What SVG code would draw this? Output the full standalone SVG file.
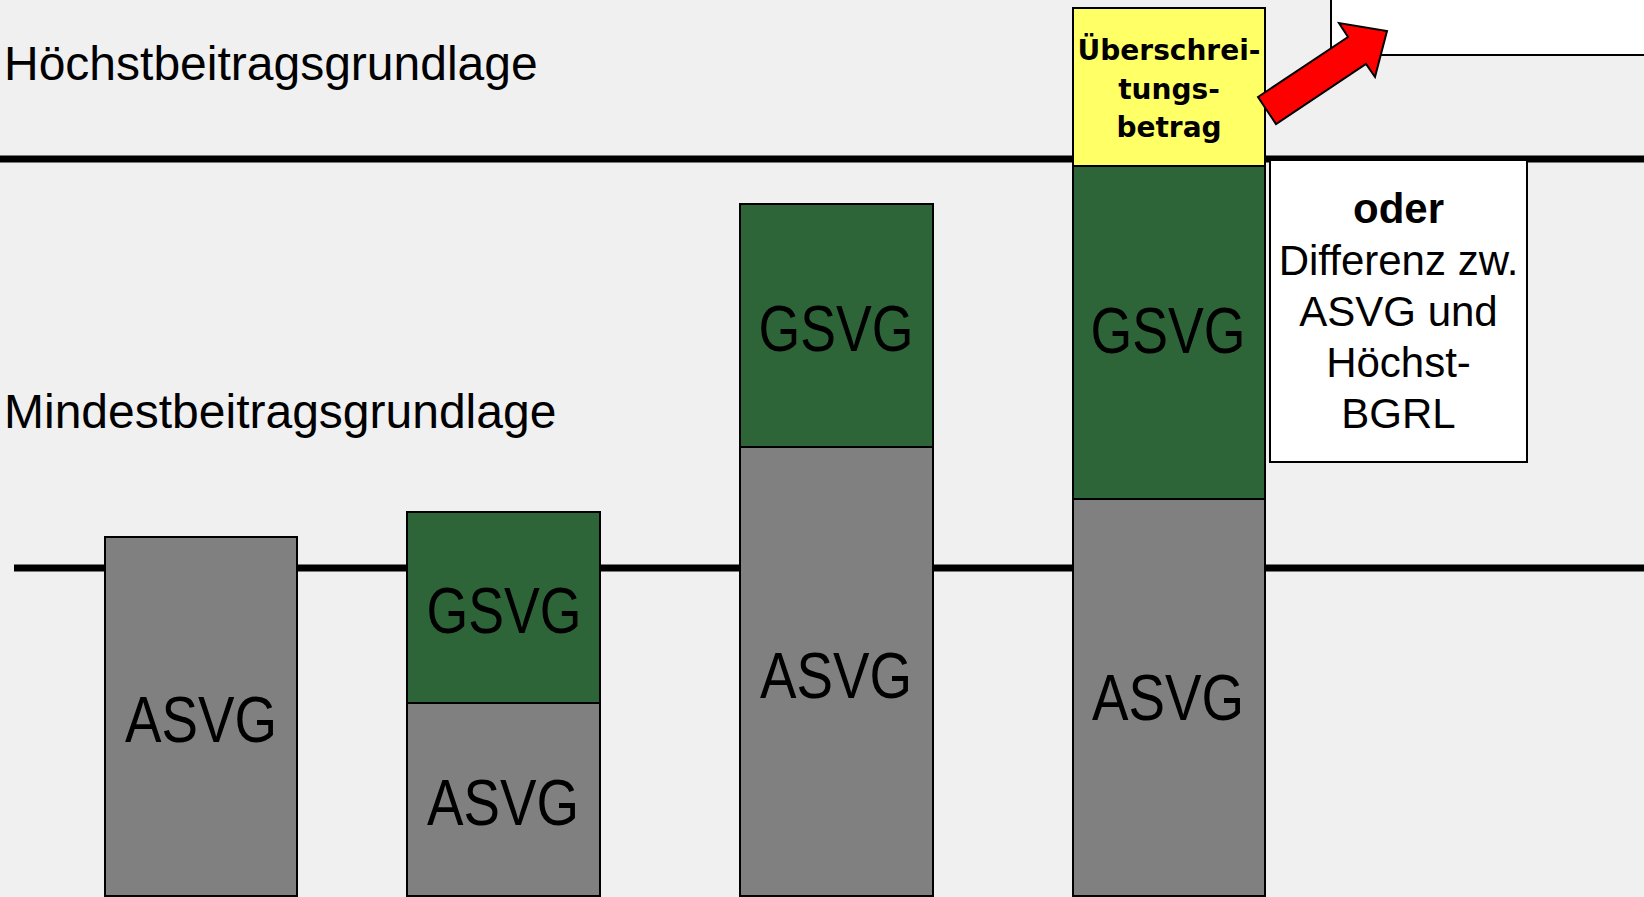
<svg xmlns="http://www.w3.org/2000/svg" width="1644" height="897" viewBox="0 0 1644 897">
<style>
.lbl{font-family:"Liberation Sans",Arial,sans-serif;font-size:48px;fill:#000}
.bar{stroke:#000;stroke-width:2}
.gray{fill:#808080}
.green{fill:#2d6538}
.yellow{fill:#ffff66}
.big{font-family:"Liberation Sans",Arial,sans-serif;font-size:64px;fill:#000;text-anchor:middle}
.yt{font-family:"DejaVu Sans",Verdana,sans-serif;font-weight:bold;font-size:28px;fill:#000;text-anchor:middle}
.bt{font-family:"Liberation Sans",Arial,sans-serif;font-size:42px;fill:#000;text-anchor:middle}
.box{fill:#fff;stroke:#000;stroke-width:2}
</style>
<rect x="0" y="0" width="1644" height="897" fill="#f0f0f0"/>
<g id="connectors">
<line x1="0" y1="159" x2="1644" y2="159" stroke="#000" stroke-width="7"/>
<line x1="14" y1="568" x2="1644" y2="568" stroke="#000" stroke-width="7"/>
</g>
<g id="label-hoechst"><text class="lbl" x="4" y="80">Höchstbeitragsgrundlage</text></g>
<g id="label-mindest"><text class="lbl" x="4" y="428">Mindestbeitragsgrundlage</text></g>
<g id="bar1">
<rect class="bar gray" x="105" y="537" width="192" height="359"/>
<text class="big" x="201" y="742" textLength="152" lengthAdjust="spacingAndGlyphs">ASVG</text>
</g>
<g id="bar2">
<rect class="bar green" x="407" y="512" width="193" height="191"/>
<rect class="bar gray" x="407" y="703" width="193" height="193"/>
<text class="big" x="504" y="633" textLength="155" lengthAdjust="spacingAndGlyphs">GSVG</text>
<text class="big" x="503" y="825" textLength="152" lengthAdjust="spacingAndGlyphs">ASVG</text>
</g>
<g id="bar3">
<rect class="bar green" x="740" y="204" width="193" height="243"/>
<rect class="bar gray" x="740" y="447" width="193" height="449"/>
<text class="big" x="836" y="351" textLength="155" lengthAdjust="spacingAndGlyphs">GSVG</text>
<text class="big" x="836" y="698" textLength="152" lengthAdjust="spacingAndGlyphs">ASVG</text>
</g>
<g id="bar4">
<rect class="bar yellow" x="1073" y="8" width="192" height="158"/>
<rect class="bar green" x="1073" y="166" width="192" height="333"/>
<rect class="bar gray" x="1073" y="499" width="192" height="397"/>
<text class="yt" x="1169" y="60">Überschrei-</text>
<text class="yt" x="1169" y="99">tungs-</text>
<text class="yt" x="1169" y="137">betrag</text>
<text class="big" x="1168" y="353" textLength="155" lengthAdjust="spacingAndGlyphs">GSVG</text>
<text class="big" x="1168" y="720" textLength="152" lengthAdjust="spacingAndGlyphs">ASVG</text>
</g>
<g id="box-oder">
<rect class="box" x="1270" y="160" width="257" height="302"/>
<text class="bt" x="1398.5" y="223" font-weight="bold">oder</text>
<text class="bt" x="1398.5" y="275">Differenz zw.</text>
<text class="bt" x="1398.5" y="326">ASVG und</text>
<text class="bt" x="1398.5" y="377">Höchst-</text>
<text class="bt" x="1398.5" y="428">BGRL</text>
</g>
<g id="box-top">
<rect class="box" x="1331" y="-5" width="320" height="60"/>
</g>
<g id="arrow">
<polygon points="1258,97 1348,37 1339,23 1387,31 1375,77 1366,64 1276,124" fill="#ff0000" stroke="#000" stroke-width="2" stroke-linejoin="miter"/>
</g>
</svg>
